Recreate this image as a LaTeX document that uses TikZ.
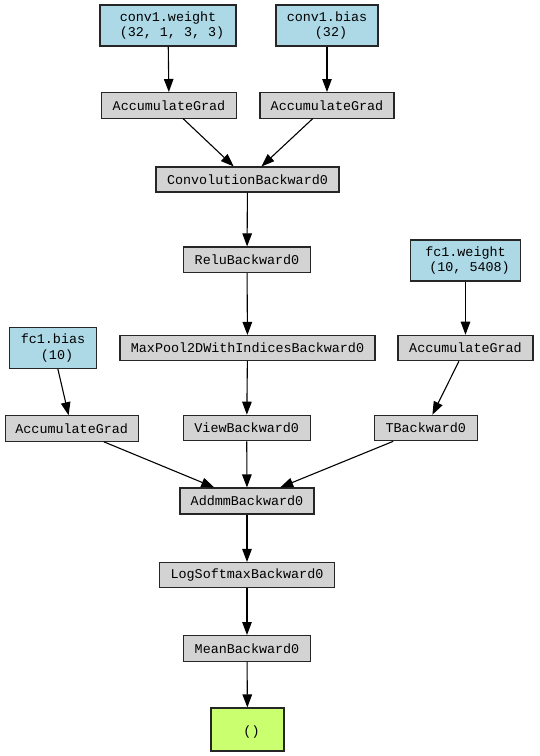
\documentclass[tikz,border=0pt]{standalone}
\usepackage{fontspec}
\setmonofont{Liberation Mono}
\usetikzlibrary{arrows.meta}
\definecolor{lightbluec}{HTML}{ADD8E6}
\definecolor{lightgrayc}{HTML}{D3D3D3}
\definecolor{greenc}{HTML}{CAFF70}
\tikzset{
  base/.style={draw=black!85, line width=1.1pt, font=\ttfamily\fontsize{13.4}{15.5}\selectfont, align=center, inner sep=0pt},
  grad/.style={base, fill=lightgrayc},
  param/.style={base, fill=lightbluec},
  outn/.style={base, fill=greenc},
  edge/.style={line width=1.1pt, -{Triangle[length=13pt,width=9.5pt]}},
}
\begin{document}
\begin{tikzpicture}[x=1pt,y=-1pt]
\fill[white] (0,0) rectangle (539,756);
\useasboundingbox (0,0) rectangle (539,756);
\node[param, minimum width=136pt, minimum height=41pt] (w) at (168,25.5) {conv1.weight\\\mbox{ }(32, 1, 3, 3)};
\node[param, minimum width=102pt, minimum height=41pt] (b) at (327,25.5) {conv1.bias\\\mbox{ }(32)};
\node[grad, minimum width=135pt, minimum height=25.5pt] (ag1) at (169,105.3) {AccumulateGrad};
\node[grad, minimum width=134pt, minimum height=25.5pt] (ag2) at (327,105.3) {AccumulateGrad};
\node[grad, minimum width=183pt, minimum height=25pt] (conv) at (247.5,179.5) {ConvolutionBackward0};
\node[grad, minimum width=127.5pt, minimum height=25.5pt] (relu) at (247,259.7) {ReluBackward0};
\node[param, minimum width=110pt, minimum height=41pt] (fcw) at (465.5,260.5) {fc1.weight\\\mbox{ }(10, 5408)};
\node[grad, minimum width=255pt, minimum height=25pt] (mp) at (247.5,348) {MaxPool2DWithIndicesBackward0};
\node[grad, minimum width=135pt, minimum height=25.5pt] (ag3) at (465.5,348) {AccumulateGrad};
\node[param, minimum width=87pt, minimum height=41pt] (fcb) at (53,348) {fc1.bias\\\mbox{ }(10)};
\node[grad, minimum width=133pt, minimum height=25.5pt] (ag4) at (71.7,428.5) {AccumulateGrad};
\node[grad, minimum width=127pt, minimum height=25.5pt] (view) at (246.7,428) {ViewBackward0};
\node[grad, minimum width=103pt, minimum height=25.5pt] (tb) at (425.8,428) {TBackward0};
\node[grad, minimum width=134pt, minimum height=26pt] (addmm) at (247,501) {AddmmBackward0};
\node[grad, minimum width=175pt, minimum height=25pt] (logsm) at (247,575) {LogSoftmaxBackward0};
\node[grad, minimum width=127.5pt, minimum height=25.5pt] (mean) at (247,648.3) {MeanBackward0};
\node[outn, minimum width=73pt, minimum height=43pt] (out) at (247.5,729.5) {\mbox{}\\\mbox{ }()};
\draw[edge] (w) -- (ag1);
\draw[edge] (b) -- (ag2);
\draw[edge] (ag1) -- (conv);
\draw[edge] (ag2) -- (conv);
\draw[edge] (conv) -- (relu);
\draw[edge] (relu) -- (mp);
\draw[edge] (fcw) -- (ag3);
\draw[edge] (fcb) -- (ag4);
\draw[edge] (ag3) -- (tb);
\draw[edge] (mp) -- (view);
\draw[edge] (ag4) -- (addmm);
\draw[edge] (view) -- (addmm);
\draw[edge] (tb) -- (addmm);
\draw[edge] (addmm) -- (logsm);
\draw[edge] (logsm) -- (mean);
\draw[edge] (mean) -- (out);
\end{tikzpicture}
\end{document}
